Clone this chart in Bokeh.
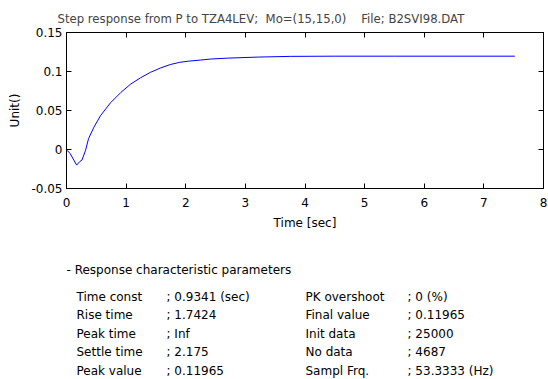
from bokeh.plotting import figure
from bokeh.layouts import column
from bokeh.models import Range1d, LinearAxis, FixedTicker, NumeralTickFormatter, ColumnDataSource
from bokeh.embed import file_html
from bokeh.resources import INLINE
from bokeh.core.properties import value

# ---- data ----
time_s = [0.0, 0.02, 0.06, 0.17, 0.22, 0.26, 0.32, 0.37, 0.46, 0.57, 0.74, 0.91,
          1.07, 1.24, 1.41, 1.58, 1.74, 1.90, 2.05, 2.25, 2.42, 2.72, 3.22, 3.76,
          4.5, 5.5, 6.5, 7.52]
response = [-0.001, -0.0018, -0.005, -0.020, -0.0157, -0.0135, -0.001, 0.014, 0.0286,
            0.0434, 0.060, 0.073, 0.0835, 0.0919, 0.099, 0.1046, 0.1089, 0.1118,
            0.1133, 0.1147, 0.116, 0.1172, 0.1185, 0.1194, 0.11965, 0.11965, 0.11965,
            0.11965]
x_ticks = [0, 1, 2, 3, 4, 5, 6, 7, 8]
y_ticks = [-0.05, 0, 0.05, 0.1, 0.15]

NB = "\u00a0"
title_text = ("Step response from P to TZA4LEV;" + NB * 2 + "Mo=(15,15,0)" + NB * 4
              + "File; B2SVI98.DAT")
header_text = "- Response characteristic parameters"
param_names_left = ["Time const", "Rise time", "Peak time", "Settle time", "Peak value"]
param_values_left = ["0.9341 (sec)", "1.7424", "Inf", "2.175", "0.11965"]
param_names_right = ["PK overshoot", "Final value", "Init data", "No data", "Sampl Frq."]
param_values_right = ["0 (%)", "0.11965", "25000", "4687", "53.3333 (Hz)"]

FONT = "DejaVu Sans"
FS = "12px"
H1 = 236
FRAME_H = 156

# ---- chart ----
p = figure(width=548, height=H1, output_backend="svg", toolbar_location=None,
           x_range=Range1d(0, 8), y_range=Range1d(-0.05, 0.15),
           min_border_left=66, min_border_right=5, min_border_top=32,
           min_border_bottom=H1 - 32 - FRAME_H)
p.title.text = title_text
p.title.align = "left"
p.title.offset = -9
p.title.vertical_align = "top"
p.title.text_font = FONT
p.title.text_font_size = "11.7px"
p.title.text_font_style = "normal"
p.title.standoff = 10
p.outline_line_color = "black"
p.outline_line_alpha = 1.0
p.xgrid.visible = False
p.ygrid.visible = False
p.background_fill_color = "white"
p.border_fill_color = "white"

for ax in (p.xaxis[0], p.yaxis[0]):
    ax.major_tick_in = 5
    ax.major_tick_out = 0
    ax.minor_tick_line_color = None
    ax.axis_line_color = "black"
    ax.major_tick_line_color = "black"
    ax.major_label_text_font = FONT
    ax.major_label_text_font_size = FS
    ax.major_label_text_color = "black"
    ax.axis_label_text_font = FONT
    ax.axis_label_text_font_size = FS
    ax.axis_label_text_font_style = "normal"
    ax.axis_label_text_color = "black"

p.xaxis.ticker = FixedTicker(ticks=x_ticks)
p.yaxis.ticker = FixedTicker(ticks=y_ticks)
p.yaxis.formatter = NumeralTickFormatter(format="0.[00]")
p.xaxis.axis_label = "Time [sec]"
p.yaxis.axis_label = "Unit()"
p.xaxis.major_label_standoff = 9
p.xaxis.axis_label_standoff = 6
p.yaxis.major_label_standoff = 4
p.yaxis.axis_label_standoff = 6

top_ax = LinearAxis(ticker=FixedTicker(ticks=x_ticks), major_tick_in=5, major_tick_out=0,
                    minor_tick_line_color=None, major_label_text_font_size="0px",
                    major_label_standoff=0, axis_line_color="black")
right_ax = LinearAxis(ticker=FixedTicker(ticks=y_ticks), major_tick_in=5, major_tick_out=0,
                      minor_tick_line_color=None, major_label_text_font_size="0px",
                      major_label_standoff=0, axis_line_color="black")
p.add_layout(top_ax, "above")
p.add_layout(right_ax, "right")

p.line(time_s, response, line_color="#0000ff", line_width=1)

# ---- parameter table (page-pixel coordinates, frame aligned with chart) ----
H2 = 379 - H1
q = figure(width=548, height=H2, output_backend="svg", toolbar_location=None,
           x_range=Range1d(66, 543), y_range=Range1d(379, H1),
           x_axis_type=None, y_axis_type=None,
           min_border_left=66, min_border_right=5, min_border_top=0, min_border_bottom=0)
q.outline_line_color = None
q.xgrid.visible = False
q.ygrid.visible = False

row_y = [296, 314.5, 333, 351.5, 370.5]
texts = [header_text]
xs = [66]
ys = [269]
for i in range(5):
    texts += [param_names_left[i], "; " + param_values_left[i],
              param_names_right[i], "; " + param_values_right[i]]
    xs += [76, 166, 305, 407]
    ys += [row_y[i]] * 4
src = ColumnDataSource(dict(x=xs, y=ys, t=texts))
q.text(x="x", y="y", text="t", source=src, text_font=value(FONT), text_font_size=FS,
       text_baseline="middle", text_align="left", text_color="black")

layout = column(p, q, spacing=0)
open("out.html", "w").write(file_html(layout, INLINE))
